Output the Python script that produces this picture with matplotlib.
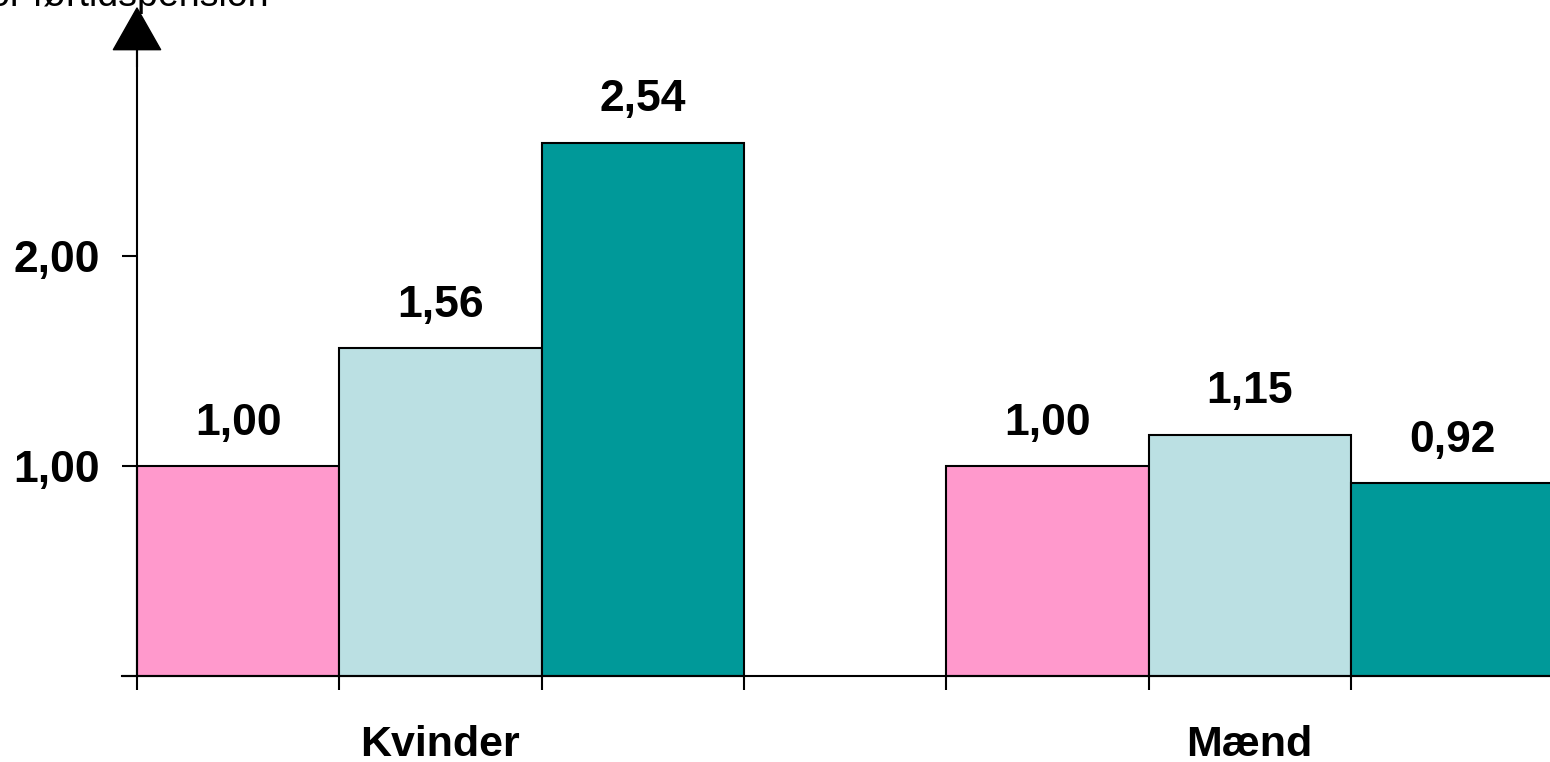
import matplotlib
matplotlib.use("Agg")
import matplotlib.pyplot as plt


# data

groups = ["Kvinder", "Mænd"]
series_colors = ["#FF99CC", "#BBE0E3", "#009999"]
kvinder = [1.00, 1.56, 2.54]
maend = [1.00, 1.15, 0.92]
y_ticks = [0, 1, 2]
y_tick_labels = ["", "1,00", "2,00"]
y_title = "Relativ risiko for førtidspension"


plt.rcParams["font.family"] = ["Liberation Sans", "DejaVu Sans"]

fig = plt.figure(figsize=(15.5, 7.62), dpi=100)
ax = fig.add_axes([0, 0, 1, 1])

# pixel layout: x=0 at 137px, 202.3 px per bar; y=0 at 676px, 210 px per unit
px_x = 202.3
px_y = 210.0
ax.set_xlim(-137 / px_x, (1550 - 137) / px_x)
ax.set_ylim(-(762 - 676) / px_y, 676 / px_y)


# bars

for g, values in enumerate([kvinder, maend]):
    for i, v in enumerate(values):
        x = g * 4 + i + 0.5
        ax.bar(
            x, v, width=1.0,
            color=series_colors[i],
            edgecolor="black",
            linewidth=1.5,
            zorder=2
        )
        ax.annotate(
            f"{v:.2f}".replace(".", ","),
            (x, v),
            xytext=(0, 16),
            textcoords="offset points",
            ha="center", va="bottom",
            fontsize=32, fontweight="bold"
        )


# axes

for side in ["top", "right"]:
    ax.spines[side].set_visible(False)

ax.spines["left"].set_position(("data", 0))
ax.spines["bottom"].set_position(("data", 0))
ax.spines["left"].set_bounds(0, 2.98)
ax.spines["bottom"].set_bounds(-15 / px_x, 7.1)
ax.spines["left"].set_linewidth(1.5)
ax.spines["bottom"].set_linewidth(1.5)

ax.set_yticks(y_ticks)
ax.set_yticklabels(y_tick_labels, fontsize=32, fontweight="bold")
ax.tick_params(axis="y", direction="out", length=11, width=1.5, pad=16)

ax.set_xticks([1.5, 5.5])
ax.set_xticklabels(groups, fontsize=31, fontweight="bold")
ax.tick_params(axis="x", which="major", length=0, pad=35)
ax.set_xticks([0, 1, 2, 3, 4, 5, 6], minor=True)
ax.tick_params(axis="x", which="minor", direction="out", length=10, width=1.5)


# arrow at the top of the y axis

ax.annotate(
    "",
    xy=(0, 668 / px_y),
    xytext=(0, 2.9),
    arrowprops=dict(
        facecolor="black",
        edgecolor="black",
        width=0.5,
        headwidth=34,
        headlength=30
    )
)

fig.text(
    269 / 1550, 1 - 6 / 762,
    y_title,
    ha="right", va="baseline",
    fontsize=27
)

fig.savefig("out.png", dpi=100)
